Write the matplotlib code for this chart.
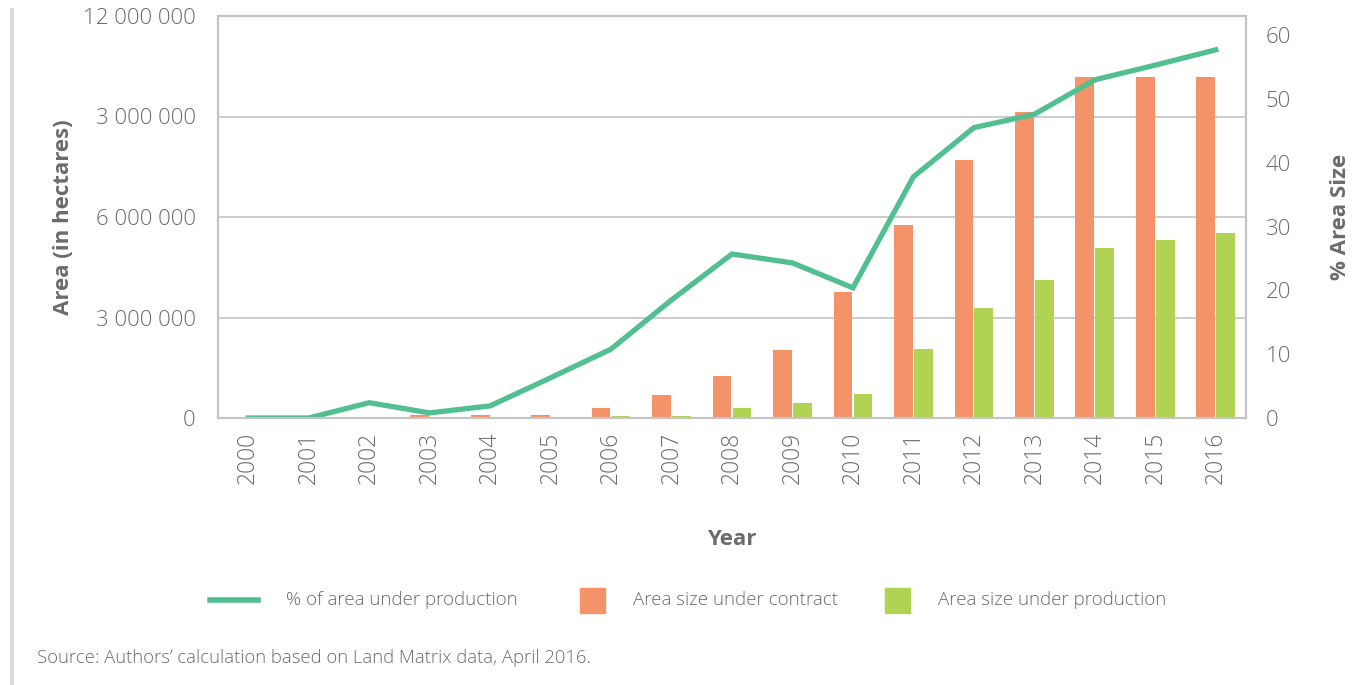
import matplotlib
matplotlib.use('Agg')
import matplotlib.pyplot as plt
from matplotlib.lines import Line2D
from matplotlib.patches import Rectangle
import numpy as np

plt.rcParams['font.family'] = ['Open Sans', 'DejaVu Sans']

years = [str(y) for y in range(2000, 2017)]
# hectares
area_contract = [0, 0, 0, 90000, 90000, 90000, 300000, 690000, 1250000, 2030000,
                 3760000, 5760000, 7700000, 9130000, 10180000, 10180000, 10180000]
area_production = [0, 0, 0, 0, 0, 0, 60000, 60000, 300000, 450000,
                   716000, 2060000, 3280000, 4120000, 5070000, 5310000, 5520000]
# percent
pct_production = [0, 0, 2.4, 0.8, 1.9, 6.3, 10.8, 18.5, 25.7, 24.3,
                  20.4, 37.8, 45.5, 47.6, 53.0, 55.3, 57.7]
left_ticks = [0, 3000000, 6000000, 9000000, 12000000]
left_labels = ['0', '3 000 000', '6 000 000', '3 000 000', '12 000 000']
right_ticks = [0, 10, 20, 30, 40, 50, 60]

c_line = '#52BF90'
c_contract = '#F4936A'
c_prod = '#B0D353'
c_text = '#6b6b6b'
c_grid = '#c4c4c4'

W, H = 1362, 685
fig = plt.figure(figsize=(W / 100, H / 100), dpi=100)
ax = fig.add_axes([218 / W, 1 - 418 / H, (1246 - 218) / W, (418 - 16) / H])
ax2 = ax.twinx()

x = np.arange(len(years))
bw = 0.31
ax.bar(x - bw / 2 - 0.01, area_contract, width=bw, color=c_contract, zorder=2)
ax.bar(x + bw / 2 + 0.01, area_production, width=bw, color=c_prod, zorder=2)
ax2.plot(x, pct_production, color=c_line, linewidth=3.8, solid_joinstyle='miter')

ax.set_xlim(-0.5, 16.5)
ax.set_ylim(0, 12000000)
ax2.set_ylim(0, 63)

ax.set_yticks(left_ticks)
ax.set_yticklabels(left_labels)
ax2.set_yticks(right_ticks)
ax.set_xticks(x)
ax.set_xticklabels(years, rotation=90)

ax.grid(axis='y', color=c_grid, linewidth=1.2, zorder=0)
ax.set_axisbelow(True)

for a in (ax, ax2):
    for s in a.spines.values():
        s.set_color(c_grid)
        s.set_linewidth(1.5)
    a.tick_params(length=0, colors=c_text)

ax.tick_params(axis='y', labelsize=16, pad=16)
ax.tick_params(axis='x', labelsize=16.5, pad=10)
ax2.tick_params(axis='y', labelsize=16, pad=14)

for lab in ax.get_yticklabels() + ax2.get_yticklabels() + ax.get_xticklabels():
    lab.set_fontweight('light')

ax.set_ylabel('Area (in hectares)', fontsize=16, fontweight='bold', color=c_text)
ax.yaxis.set_label_coords(-(218 - 74) / (1246 - 218), 0.5)
ax2.set_ylabel('% Area Size', fontsize=16, fontweight='bold', color=c_text)
ax2.yaxis.set_label_coords(1 + (1330 - 1246) / (1246 - 218), 0.5)
ax.set_xlabel('Year', fontsize=16, fontweight='bold', color=c_text)
ax.xaxis.set_label_coords(0.5, -(529 - 418) / (418 - 16))

# legend drawn in figure pixels
ly = 1 - 600 / H
fig.add_artist(Line2D([210 / W, 258 / W], [ly, ly], color=c_line, linewidth=4))
fig.text(286 / W, ly, '% of area under production', fontsize=13.5, fontweight='light',
         color=c_text, va='center')
fig.add_artist(Rectangle((580 / W, 1 - 613 / H), 25 / W, 25 / H, color=c_contract))
fig.text(633 / W, ly, 'Area size under contract', fontsize=13.5, fontweight='light',
         color=c_text, va='center')
fig.add_artist(Rectangle((885 / W, 1 - 613 / H), 25 / W, 25 / H, color=c_prod))
fig.text(938 / W, ly, 'Area size under production', fontsize=13.5, fontweight='light',
         color=c_text, va='center')

fig.text(37 / W, 1 - 658 / H, 'Source: Authors\u2019 calculation based on Land Matrix data, April 2016.',
         fontsize=13.3, fontweight='light', color=c_text, va='center')

fig.add_artist(Line2D([12 / W, 12 / W], [0, 1 - 10 / H], color='#d9d9d9', linewidth=3))

fig.savefig('out.png', dpi=100)
